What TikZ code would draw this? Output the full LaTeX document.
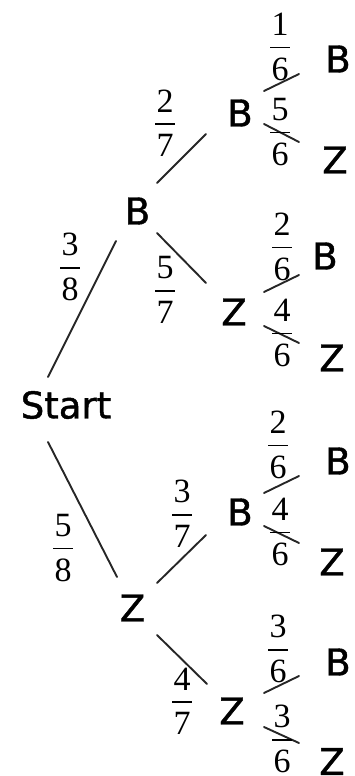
\documentclass[tikz,border=0pt]{standalone}
\usepackage{fontspec}
\usetikzlibrary{calc}
\newfontfamily\nodefont[FakeBold=1.2]{DejaVu Sans}
\newfontfamily\fracfont{Liberation Serif}
\newcommand\fracbox[2]{%
  \vbox{\offinterlineskip
    \halign{\hfil##\hfil\cr
      #1\cr
      \noalign{\kern 11pt}
      \vrule width 20pt height 0.8pt depth 0.8pt\cr
      \noalign{\kern 9.5pt}
      #2\cr}}}
\tikzset{
  state/.style={inner sep=0pt, font=\nodefont\fontsize{37}{37}\selectfont, text=black},
  prob/.style={inner sep=0pt, font=\fracfont\fontsize{34}{34}\selectfont, text=black},
  branch/.style={line width=1.9pt, draw=black!85, line cap=round}
}
\begin{document}
\begin{tikzpicture}[x=1pt,y=-1pt]
\useasboundingbox (0,0) rectangle (354,776);
% states
\node[state] (S)   at (66,405)  {Start};
\node[state] (B)   at (137.5,211) {B};
\node[state] (Z)   at (132.5,608) {Z};
\node[state] (BB)  at (240,113) {B};
\node[state] (BZ)  at (234,312) {Z};
\node[state] (ZB)  at (240,512) {B};
\node[state] (ZZ)  at (232,711) {Z};
\node[state] (BBB) at (338,59)  {B};
\node[state] (BBZ) at (335,160) {Z};
\node[state] (BZB) at (325,256) {B};
\node[state] (BZZ) at (332,358) {Z};
\node[state] (ZBB) at (338,461) {B};
\node[state] (ZBZ) at (332,562) {Z};
\node[state] (ZZB) at (338,662) {B};
\node[state] (ZZZ) at (332,761.5) {Z};
% branches
\draw[branch] ($(S)+(-18,-28)$) -- ($(B)+(-21.5,30)$);
\draw[branch] ($(S)+(-18,37)$) -- ($(Z)+(-15.5,-31)$);
\draw[branch] ($(B)+(19.5,-28)$) -- ($(BB)+(-34,21)$);
\draw[branch] ($(B)+(19.5,22)$) -- ($(BZ)+(-28,-29)$);
\draw[branch] ($(Z)+(24.5,-25)$) -- ($(ZB)+(-34,23)$);
\draw[branch] ($(Z)+(24.5,27)$) -- ($(ZZ)+(-25,-27)$);
\draw[branch] ($(BB)+(24,-22)$) -- ($(BBB)+(-39,15)$);
\draw[branch] ($(BB)+(24,11)$) -- ($(BBZ)+(-36,-18)$);
\draw[branch] ($(BZ)+(30,-20)$) -- ($(BZB)+(-26,19)$);
\draw[branch] ($(BZ)+(30,14)$) -- ($(BZZ)+(-33,-15)$);
\draw[branch] ($(ZB)+(24,-19)$) -- ($(ZBB)+(-39,15)$);
\draw[branch] ($(ZB)+(24,14)$) -- ($(ZBZ)+(-33,-19)$);
\draw[branch] ($(ZZ)+(32,-18)$) -- ($(ZZB)+(-39,14)$);
\draw[branch] ($(ZZ)+(32,16)$) -- ($(ZZZ)+(-33,-18.5)$);
% probabilities
\node[prob] (p1)  at (70,267)  {\fracbox{3}{8}};
\node[prob] (p2)  at (63,548)  {\fracbox{5}{8}};
\node[prob] (p3)  at (165,123) {\fracbox{2}{7}};
\node[prob] (p4)  at (165,290) {\fracbox{5}{7}};
\node[prob] (p5)  at (182,514) {\fracbox{3}{7}};
\node[prob] (p6)  at (182,701) {\fracbox{4}{7}};
\node[prob] (p7)  at (280,47)  {\fracbox{1}{6}};
\node[prob] (p8)  at (280,132) {\fracbox{5}{6}};
\node[prob] (p9)  at (282,247) {\fracbox{2}{6}};
\node[prob] (p10) at (282,333) {\fracbox{4}{6}};
\node[prob] (p11) at (278,445) {\fracbox{2}{6}};
\node[prob] (p12) at (280,532) {\fracbox{4}{6}};
\node[prob] (p13) at (278,649) {\fracbox{3}{6}};
\node[prob] (p14) at (282,739) {\fracbox{3}{6}};
\end{tikzpicture}
\end{document}
